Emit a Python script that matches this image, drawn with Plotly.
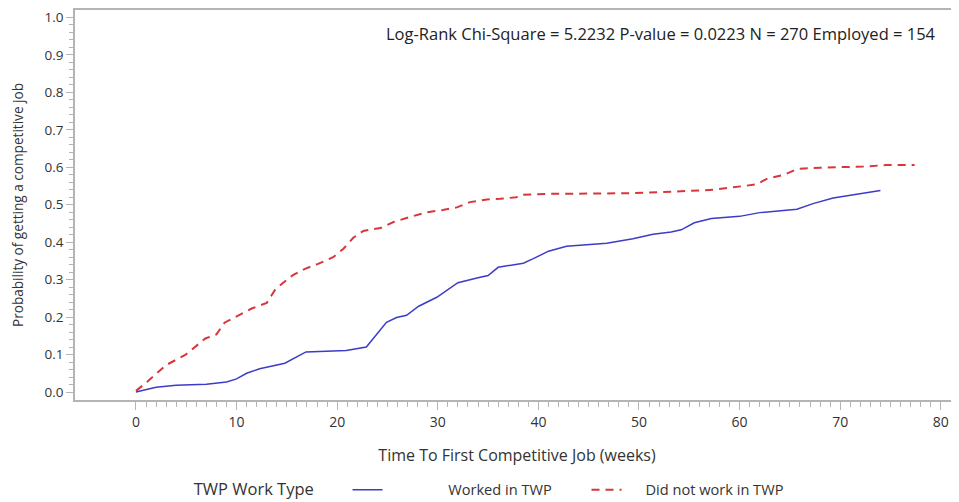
import plotly.graph_objects as go

# Worked in TWP (solid blue)
worked_t = [0, 2, 4, 7, 9, 10, 11, 12.3, 14.8, 16.9, 20.9, 22.9, 24.9, 25.9, 26.9, 28.1, 29.9, 32.0,
            34.0, 35.0, 36.0, 37.2, 38.5, 39.5, 41.0, 42.8, 46.8, 49.4, 51.4, 53.2, 54.2, 55.5, 57.2,
            60.0, 62.0, 65.7, 67.3, 69.3, 72.0, 74.0]
worked_p = [0.0, 0.013, 0.018, 0.021, 0.027, 0.035, 0.05, 0.062, 0.077, 0.107, 0.111, 0.12, 0.186,
            0.199, 0.205, 0.229, 0.253, 0.292, 0.305, 0.311, 0.333, 0.338, 0.344, 0.356, 0.376, 0.389,
            0.397, 0.409, 0.421, 0.427, 0.433, 0.452, 0.463, 0.469, 0.479, 0.488, 0.503, 0.518, 0.529, 0.538]

# Did not work in TWP (dashed red)
notwork_t = [0, 1.1, 3, 4.9, 6.9, 8.0, 8.8, 10.0, 11.5, 13.0, 13.8, 14.6, 15.6, 16.8, 18.1, 19.6, 20.6,
             21.6, 22.6, 24.3, 25.6, 27.2, 28.9, 30.5, 31.9, 33.2, 34.9, 36.2, 37.8, 38.5, 40.8, 45.8,
             49.1, 53.4, 57.4, 60.7, 61.7, 62.7, 64.4, 65.8, 68.0, 72.3, 74.6, 77.4]
notwork_p = [0.003, 0.027, 0.072, 0.099, 0.143, 0.154, 0.185, 0.202, 0.223, 0.238, 0.272, 0.291, 0.312,
             0.329, 0.342, 0.36, 0.382, 0.412, 0.43, 0.438, 0.454, 0.467, 0.48, 0.486, 0.493, 0.507,
             0.514, 0.516, 0.52, 0.527, 0.529, 0.53, 0.531, 0.535, 0.54, 0.551, 0.555, 0.569, 0.58,
             0.596, 0.599, 0.602, 0.606, 0.606]

x_ticks = [0, 10, 20, 30, 40, 50, 60, 70, 80]
y_ticks = [0.0, 0.1, 0.2, 0.3, 0.4, 0.5, 0.6, 0.7, 0.8, 0.9, 1.0]
x_minor = list(range(0, 81))
y_minor = [i / 50 for i in range(0, 51)]
stats_text = "Log-Rank Chi-Square = 5.2232 P-value = 0.0223 N = 270 Employed = 154"
legend_title = "TWP Work Type"
names = ["Worked in TWP", "Did not work in TWP"]

FONT = "Open Sans"
TXT = "#333333"
AX = "#b4b4b4"
NB = "\u00a0"

fig = go.Figure()
fig.add_trace(go.Scatter(x=worked_t, y=worked_p, mode="lines", name=NB * 16 + names[0],
                         line=dict(color="#3c3cc8", width=1.5)))
fig.add_trace(go.Scatter(x=notwork_t, y=notwork_p, mode="lines", name=NB * 5 + names[1],
                         line=dict(color="#d8363c", width=2, dash="8px,6px")))

# the page body adds an 8px offset, so the figure is 8px smaller and margins shifted
fig.update_layout(
    width=951, height=494,
    margin=dict(l=67, r=0, t=2, b=102, autoexpand=False),
    paper_bgcolor="white", plot_bgcolor="white",
    font=dict(family=FONT, color=TXT, size=14),
    showlegend=True,
    legend=dict(orientation="h", x=0.132, xanchor="left", y=-0.2302, yanchor="middle",
                title=dict(text=legend_title + NB * 6, font=dict(size=16.5)),
                font=dict(size=14.6), entrywidthmode="pixels", entrywidth=194,
                traceorder="normal"),
    annotations=[dict(text=stats_text, xref="paper", yref="paper", x=0.9765, y=0.941,
                      xanchor="right", yanchor="middle", showarrow=False,
                      font=dict(size=16.5, color="#222222"))],
)
fig.update_xaxes(range=[-6.06, 81.81], tickvals=x_ticks, ticktext=[str(v) for v in x_ticks],
                 automargin=False,
                 showgrid=False, zeroline=False, showline=True, linecolor=AX, linewidth=1.5,
                 mirror=True, ticks="outside", ticklen=8, tickcolor=AX, tickwidth=1,
                 minor=dict(tickvals=x_minor, ticks="outside", ticklen=5, tickcolor=AX),
                 tickfont=dict(size=14),
                 title=dict(text="Time To First Competitive Job (weeks)", font=dict(size=16), standoff=20))
fig.update_yaxes(range=[-0.0213, 1.020], tickvals=y_ticks, ticktext=[f"{v:.1f}" for v in y_ticks],
                 automargin=False, ticklabeloverflow="allow",
                 showgrid=False, zeroline=False, showline=True, linecolor=AX, linewidth=1.5,
                 ticks="outside", ticklen=7, tickcolor=AX, tickwidth=1,
                 minor=dict(tickvals=y_minor, ticks="outside", ticklen=4, tickcolor=AX),
                 tickfont=dict(size=13.5),
                 title=dict(text="Probability of getting a competitive job", font=dict(size=13.6), standoff=18))

fig.write_html("out.html")
